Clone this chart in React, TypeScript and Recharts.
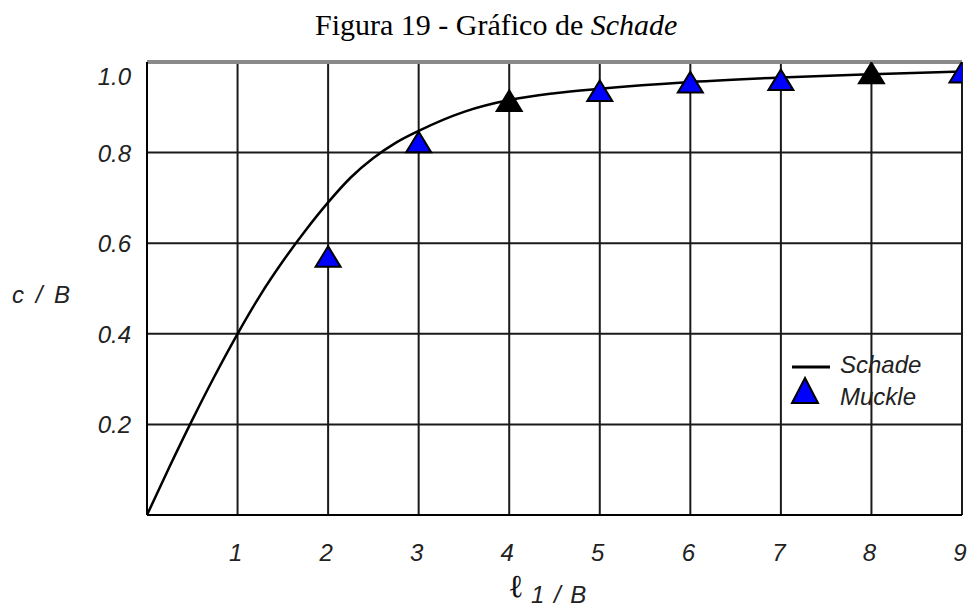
import React from 'react';
import {
  ComposedChart,
  Line,
  Scatter,
  XAxis,
  YAxis,
  CartesianGrid,
  ReferenceLine,
  Legend,
} from 'recharts';

// Schade curve (c/B vs l1/B)
const curveX = [0, 0.25, 0.5, 0.75, 1, 1.25, 1.5, 1.75, 2, 2.25, 2.5, 2.75, 3, 3.5, 4, 4.5, 5, 6, 7, 8, 9];
const curveY = [0, 0.107, 0.21, 0.308, 0.4, 0.485, 0.56, 0.628, 0.69, 0.745, 0.788, 0.822, 0.848, 0.89, 0.916, 0.931, 0.941, 0.956, 0.966, 0.973, 0.979];

// Muckle points
const muckleX = [2, 3, 4, 5, 6, 7, 8, 9];
const muckleY = [0.57, 0.823, 0.914, 0.936, 0.955, 0.96, 0.975, 0.977];
const blackPoints = [4, 8];

const xTicks = [0, 1, 2, 3, 4, 5, 6, 7, 8, 9];
const yTicks = [0, 0.2, 0.4, 0.6, 0.8, 1.0];
const yTickLabels = ['', '0.2', '0.4', '0.6', '0.8', '1.0'];

const title = 'Figura 19 - Gráfico de ';
const titleItalic = 'Schade';
const seriesNames = ['Schade', 'Muckle'];

const curveData = curveX.map((x, i) => ({ x, y: curveY[i] }));
const muckleData = muckleX.map((x, i) => ({ x, y: muckleY[i] }));

const FONT = '"Liberation Sans", Arial, sans-serif';

const XTick = (props: any) => {
  const { x, y, payload } = props;
  if (payload.value === 0) return null;
  return (
    <text x={x - 2} y={y + 46} textAnchor="middle" fontFamily={FONT} fontStyle="italic" fontSize={24} fill="#222">
      {String(payload.value)}
    </text>
  );
};

const YTick = (props: any) => {
  const { x, y, payload } = props;
  const idx = yTicks.indexOf(payload.value);
  const label = idx >= 0 ? yTickLabels[idx] : '';
  if (!label) return null;
  const dy = payload.value === 1 ? 23 : 9;
  return (
    <text x={x - 16} y={y + dy} textAnchor="end" fontFamily={FONT} fontStyle="italic" fontSize={24} fill="#222">
      {label}
    </text>
  );
};

const Triangle = (props: any) => {
  const { cx, cy, payload } = props;
  if (cx == null || cy == null) return null;
  const fill = blackPoints.includes(payload.x) ? '#000000' : '#0000ff';
  const pts = `${cx},${cy - 10.5} ${cx - 12.5},${cy + 10} ${cx + 12.5},${cy + 10}`;
  return <polygon points={pts} fill={fill} stroke="#000" strokeWidth={2} strokeLinejoin="miter" />;
};

const LegendContent = () => (
  <svg width={150} height={60} style={{ overflow: 'visible', position: 'absolute', left: 0, top: 0 }}>
    <line x1={2} y1={15} x2={40} y2={15} stroke="#000" strokeWidth={3} />
    <text x={50} y={21} fontFamily={FONT} fontStyle="italic" fontSize={24} fill="#222">
      {seriesNames[0]}
    </text>
    <polygon points="15,26 2,51 28,51" fill="#0000ff" stroke="#000" strokeWidth={2} />
    <text x={50} y={53} fontFamily={FONT} fontStyle="italic" fontSize={24} fill="#222">
      {seriesNames[1]}
    </text>
  </svg>
);

const YLabel = () => (
  <text x={12} y={303} fontFamily={FONT} fontStyle="italic" fontSize={24} fill="#222" wordSpacing={5} style={{ whiteSpace: 'pre' }}>
    {'c / B'}
  </text>
);

const XLabel = () => (
  <g>
    <text x={510} y={597} fontFamily='"DejaVu Serif", serif' fontWeight="bold" fontSize={32} fill="#111">
      {'ℓ'}
    </text>
    <text x={531} y={603} fontFamily={FONT} fontStyle="italic" fontSize={24} fill="#222" wordSpacing={3} style={{ whiteSpace: 'pre' }}>
      {'1 / B'}
    </text>
  </g>
);

export default function App() {
  return (
    <div style={{ position: 'absolute', left: 0, top: 0, width: 968, height: 609, background: '#fff' }}>
      <div
        style={{
          position: 'absolute',
          left: 315,
          top: 10,
          fontFamily: '"Liberation Serif", "Times New Roman", serif',
          fontSize: 30,
          lineHeight: '30px',
          whiteSpace: 'nowrap',
          color: '#000',
        }}
      >
        {title}
        <i>{titleItalic}</i>
      </div>
      <ComposedChart
        width={968}
        height={609}
        margin={{ top: 62, right: 6, bottom: 34, left: 87 }}
        style={{ position: 'absolute', left: 0, top: 0 }}
      >
        <CartesianGrid stroke="#1a1a1a" strokeWidth={2} />
        <XAxis
          type="number"
          dataKey="x"
          domain={[0, 9]}
          ticks={xTicks}
          interval={0}
          height={60}
          tickSize={0}
          tickMargin={0}
          tickLine={false}
          axisLine={{ stroke: '#000', strokeWidth: 2 }}
          tick={<XTick />}
          label={<XLabel />}
          allowDataOverflow
        />
        <YAxis
          type="number"
          dataKey="y"
          domain={[0, 1]}
          ticks={yTicks}
          interval={0}
          width={60}
          tickSize={0}
          tickMargin={0}
          tickLine={false}
          axisLine={{ stroke: '#000', strokeWidth: 2 }}
          tick={<YTick />}
          label={<YLabel />}
          allowDataOverflow
        />
        <ReferenceLine y={1} stroke="#8a8a8a" strokeWidth={4} />
        <Scatter
          name={seriesNames[1]}
          data={muckleData}
          dataKey="y"
          shape={<Triangle />}
          isAnimationActive={false}
        />
        <Line
          name={seriesNames[0]}
          data={curveData}
          dataKey="y"
          type="monotone"
          stroke="#000"
          strokeWidth={2.5}
          dot={false}
          activeDot={false}
          isAnimationActive={false}
        />
        <Legend
          content={<LegendContent />}
          wrapperStyle={{ position: 'absolute', left: 790, top: 352, width: 0, height: 0, overflow: 'visible' }}
        />
      </ComposedChart>
    </div>
  );
}
